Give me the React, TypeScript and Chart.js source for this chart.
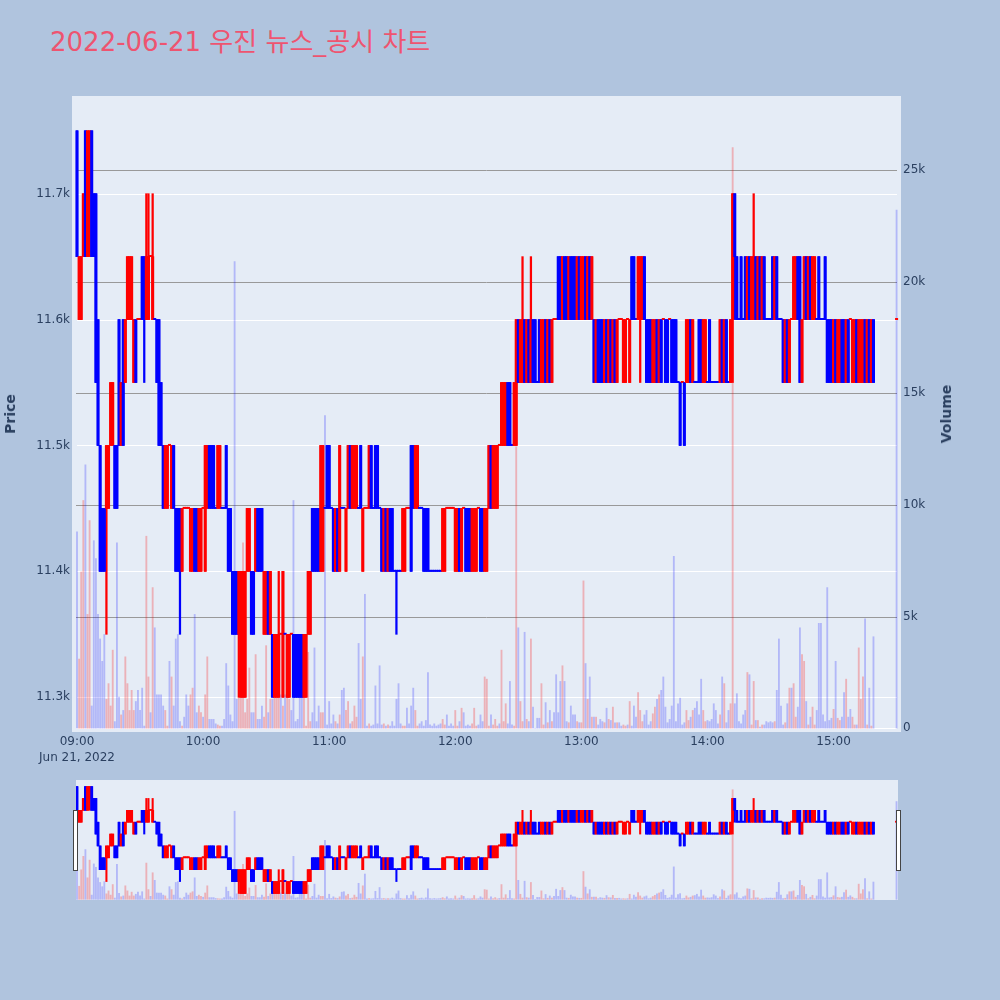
import React, { useEffect, useRef } from "react";
import { Chart, registerables } from "chart.js";

Chart.register(...registerables);

const TITLE = "2022-06-21 우진 뉴스_공시 차트";
const DATE_LABEL = "Jun 21, 2022";

// one candle per minute from 09:00 (index = minutes after 09:00), null = no trade
const opens = [
  11750, 11600, 11600, 11650, 11750, 11650, 11700, 11750, 11700, 11700, // 09:00
  11600, 11500, 11450, 11450, 11450, 11450, 11500, 11500, 11500, 11500,
  11600, 11500, 11600, 11550, 11600, 11600, 11600, 11550, 11600, 11600,
  11600, 11650, 11650, 11600, 11600, 11650, 11600, 11600, 11600, 11600,
  11550, 11500, 11450, 11450, 11500, 11450, 11500, 11450, 11450, 11450,
  11400, 11450, 11450, 11450, 11400, 11400, 11450, 11450, 11400, 11400,
  11450, 11400, 11450, 11500, 11500, 11500, 11450, 11450, 11450, 11450, // 10:00
  11450, 11500, 11450, 11450, 11400, 11400, 11400, 11350, 11300, 11300,
  11300, 11400, 11400, 11400, 11400, 11400, 11450, 11450, 11450, 11350,
  11350, 11400, 11350, 11350, 11300, 11300, 11300, 11350, 11300, 11350,
  11300, 11300, 11350, 11350, 11350, 11350, 11350, 11350, 11300, 11300,
  11350, 11350, 11450, 11450, 11450, 11450, 11400, 11400, 11450, 11500,
  11500, 11450, 11450, 11400, 11450, 11400, 11450, 11450, 11400, 11450, // 11:00
  11500, 11450, 11450, 11450, 11450, 11500, 11400, 11450, 11450, 11450,
  11500, 11450, 11500, 11500, 11450, 11450, 11400, 11450, 11400, 11450,
  11450, 11400, 11400, 11400, 11400, 11400, 11400, 11450, 11450, 11500,
  11500, 11450, 11450, 11450, 11450, 11450, 11450, 11450, 11400, 11400,
  11400, 11400, 11400, 11400, 11400, 11400, 11450, 11450, 11450, 11450,
  11400, 11400, 11450, 11400, 11450, 11450, 11450, 11450, 11400, 11400, // 12:00
  11400, 11450, 11450, 11450, 11400, 11400, 11450, 11500, 11450, 11450,
  11450, 11500, 11500, 11500, 11500, 11550, 11550, 11500, 11500, 11500,
  11600, 11550, 11550, 11600, 11550, 11600, 11550, 11600, 11600, 11550,
  11600, 11550, 11550, 11600, 11550, 11600, 11550, 11600, 11600, 11650,
  11650, 11600, 11650, 11650, 11600, 11650, 11650, 11650, 11600, 11650,
  11600, 11600, 11650, 11600, 11650, 11600, 11600, 11550, 11600, 11600, // 13:00
  11600, 11550, 11600, 11550, 11600, 11550, 11600, 11550, 11600, 11600,
  11550, 11550, 11600, 11550, 11650, 11650, 11600, 11600, 11600, 11600,
  11650, 11600, 11600, 11600, 11550, 11550, 11600, 11550, 11600, 11600,
  11600, 11600, 11600, 11600, 11600, 11600, 11550, 11550, 11550, 11550,
  11550, 11550, 11600, 11550, 11550, 11550, 11600, 11600, 11550, 11550,
  11550, 11600, 11550, 11550, 11550, 11550, 11550, 11600, 11550, 11600, // 14:00
  11550, 11550, 11600, 11700, 11650, 11600, 11650, 11600, 11650, 11600,
  11650, 11600, 11600, 11650, 11600, 11650, 11600, 11650, 11600, 11600,
  11600, 11650, 11600, 11650, 11600, 11600, 11600, 11550, 11600, 11550,
  11600, 11600, 11600, 11650, 11650, 11550, 11600, 11650, 11600, 11650,
  11600, 11600, 11600, 11650, 11600, 11600, 11650, 11600, 11600, 11600,
  11550, 11600, 11550, 11550, 11600, 11600, 11550, 11600, 11600, 11550, // 15:00
  11550, 11600, 11550, 11550, 11550, 11600, 11550, 11600, 11550, 11600,
  null, null, null, null, null, null, null, null, null, null,
  11600, // 15:30
];

const highs = [
  11750, 11650, 11650, 11700, 11750, 11750, 11750, 11750, 11700, 11700,
  11600, 11500, 11450, 11450, 11500, 11500, 11550, 11550, 11500, 11500,
  11600, 11550, 11600, 11600, 11650, 11650, 11650, 11600, 11600, 11600,
  11600, 11650, 11650, 11700, 11700, 11650, 11700, 11600, 11600, 11600,
  11550, 11500, 11500, 11500, 11500, 11500, 11500, 11450, 11450, 11450,
  11450, 11450, 11450, 11450, 11450, 11450, 11450, 11450, 11450, 11450,
  11450, 11500, 11500, 11500, 11500, 11500, 11450, 11500, 11500, 11450,
  11450, 11500, 11450, 11450, 11400, 11400, 11400, 11400, 11400, 11400,
  11400, 11450, 11450, 11400, 11400, 11450, 11450, 11450, 11450, 11400,
  11400, 11400, 11400, 11350, 11350, 11350, 11400, 11350, 11400, 11350,
  11350, 11350, 11350, 11350, 11350, 11350, 11350, 11350, 11350, 11350,
  11400, 11400, 11450, 11450, 11450, 11450, 11500, 11500, 11450, 11500,
  11500, 11450, 11450, 11450, 11450, 11500, 11450, 11450, 11450, 11500,
  11500, 11500, 11500, 11500, 11450, 11500, 11450, 11450, 11450, 11500,
  11500, 11450, 11500, 11500, 11450, 11450, 11450, 11450, 11450, 11450,
  11450, 11400, 11400, 11400, 11400, 11450, 11450, 11450, 11450, 11500,
  11500, 11500, 11500, 11450, 11450, 11450, 11450, 11450, 11400, 11400,
  11400, 11400, 11400, 11400, 11450, 11450, 11450, 11450, 11450, 11450,
  11450, 11450, 11450, 11450, 11450, 11450, 11450, 11450, 11450, 11450,
  11450, 11450, 11450, 11450, 11450, 11450, 11500, 11500, 11500, 11500,
  11500, 11500, 11550, 11550, 11550, 11550, 11550, 11500, 11550, 11600,
  11600, 11600, 11650, 11600, 11600, 11600, 11650, 11600, 11600, 11550,
  11600, 11600, 11600, 11600, 11600, 11600, 11600, 11600, 11600, 11650,
  11650, 11650, 11650, 11650, 11650, 11650, 11650, 11650, 11650, 11650,
  11650, 11650, 11650, 11650, 11650, 11650, 11600, 11600, 11600, 11600,
  11600, 11600, 11600, 11600, 11600, 11600, 11600, 11600, 11600, 11600,
  11600, 11600, 11600, 11600, 11650, 11650, 11600, 11650, 11650, 11650,
  11650, 11600, 11600, 11600, 11600, 11600, 11600, 11600, 11600, 11600,
  11600, 11600, 11600, 11600, 11600, 11600, 11550, 11550, 11550, 11550,
  11600, 11600, 11600, 11600, 11550, 11550, 11600, 11600, 11600, 11600,
  11550, 11600, 11550, 11550, 11550, 11550, 11600, 11600, 11600, 11600,
  11550, 11600, 11700, 11700, 11650, 11600, 11650, 11600, 11650, 11650,
  11650, 11650, 11700, 11650, 11650, 11650, 11650, 11650, 11600, 11600,
  11600, 11650, 11650, 11650, 11600, 11600, 11600, 11600, 11600, 11600,
  11600, 11650, 11650, 11650, 11650, 11600, 11650, 11650, 11650, 11650,
  11650, 11650, 11600, 11650, 11600, 11600, 11650, 11600, 11600, 11600,
  11600, 11600, 11600, 11600, 11600, 11600, 11600, 11600, 11600, 11600,
  11600, 11600, 11600, 11600, 11600, 11600, 11600, 11600, 11600, 11600,
  null, null, null, null, null, null, null, null, null, null,
  11600,
];

const lows = [
  11650, 11600, 11600, 11650, 11650, 11650, 11650, 11650, 11650, 11550,
  11500, 11400, 11400, 11400, 11350, 11450, 11500, 11500, 11450, 11450,
  11500, 11500, 11500, 11550, 11600, 11600, 11600, 11550, 11550, 11600,
  11600, 11600, 11550, 11600, 11600, 11650, 11600, 11600, 11550, 11500,
  11500, 11450, 11450, 11450, 11500, 11450, 11450, 11400, 11400, 11350,
  11400, 11450, 11450, 11450, 11400, 11400, 11400, 11400, 11400, 11400,
  11450, 11400, 11450, 11450, 11450, 11450, 11450, 11450, 11450, 11450,
  11450, 11450, 11400, 11400, 11350, 11350, 11350, 11300, 11300, 11300,
  11300, 11400, 11400, 11350, 11350, 11400, 11400, 11400, 11400, 11350,
  11350, 11350, 11350, 11300, 11300, 11300, 11300, 11350, 11300, 11350,
  11300, 11300, 11350, 11300, 11300, 11300, 11300, 11300, 11300, 11300,
  11350, 11350, 11400, 11400, 11400, 11400, 11400, 11400, 11450, 11450,
  11450, 11450, 11400, 11400, 11400, 11400, 11450, 11450, 11400, 11450,
  11450, 11450, 11450, 11450, 11450, 11450, 11400, 11450, 11450, 11450,
  11450, 11450, 11450, 11450, 11450, 11400, 11400, 11400, 11400, 11400,
  11400, 11400, 11350, 11400, 11400, 11400, 11400, 11450, 11450, 11400,
  11450, 11450, 11450, 11450, 11450, 11400, 11400, 11400, 11400, 11400,
  11400, 11400, 11400, 11400, 11400, 11400, 11450, 11450, 11450, 11450,
  11400, 11400, 11400, 11400, 11450, 11400, 11400, 11400, 11400, 11400,
  11400, 11450, 11400, 11400, 11400, 11400, 11450, 11450, 11450, 11450,
  11450, 11500, 11500, 11500, 11500, 11500, 11500, 11500, 11500, 11500,
  11550, 11550, 11550, 11550, 11550, 11550, 11550, 11550, 11550, 11550,
  11550, 11550, 11550, 11550, 11550, 11550, 11550, 11600, 11600, 11600,
  11600, 11600, 11600, 11600, 11600, 11600, 11600, 11600, 11600, 11600,
  11600, 11600, 11600, 11600, 11600, 11600, 11550, 11550, 11550, 11550,
  11550, 11550, 11550, 11550, 11550, 11550, 11550, 11550, 11600, 11600,
  11550, 11550, 11600, 11550, 11600, 11600, 11600, 11600, 11550, 11600,
  11600, 11550, 11550, 11550, 11550, 11550, 11550, 11550, 11550, 11600,
  11550, 11550, 11600, 11550, 11550, 11550, 11550, 11500, 11550, 11500,
  11550, 11550, 11550, 11550, 11550, 11550, 11550, 11550, 11550, 11550,
  11550, 11550, 11550, 11550, 11550, 11550, 11550, 11550, 11550, 11550,
  11550, 11550, 11550, 11600, 11600, 11600, 11600, 11600, 11600, 11600,
  11600, 11600, 11600, 11600, 11600, 11600, 11600, 11600, 11600, 11600,
  11600, 11600, 11600, 11600, 11600, 11600, 11550, 11550, 11550, 11550,
  11600, 11600, 11600, 11600, 11550, 11550, 11600, 11600, 11600, 11600,
  11600, 11600, 11600, 11600, 11600, 11600, 11600, 11550, 11550, 11550,
  11550, 11550, 11550, 11550, 11550, 11550, 11550, 11550, 11600, 11550,
  11550, 11550, 11550, 11550, 11550, 11550, 11550, 11550, 11550, 11550,
  null, null, null, null, null, null, null, null, null, null,
  11600,
];

const closes = [
  11650, 11650, 11650, 11700, 11650, 11750, 11750, 11650, 11650, 11550,
  11500, 11400, 11400, 11400, 11500, 11500, 11550, 11550, 11450, 11450,
  11500, 11550, 11500, 11600, 11650, 11650, 11650, 11600, 11550, 11600,
  11600, 11600, 11600, 11650, 11650, 11650, 11650, 11600, 11550, 11500,
  11500, 11450, 11500, 11500, 11500, 11500, 11450, 11400, 11400, 11400,
  11450, 11450, 11450, 11450, 11450, 11450, 11400, 11400, 11450, 11450,
  11450, 11500, 11500, 11450, 11450, 11450, 11450, 11500, 11500, 11450,
  11450, 11450, 11400, 11400, 11350, 11350, 11350, 11400, 11400, 11400,
  11400, 11450, 11450, 11350, 11350, 11450, 11400, 11400, 11400, 11400,
  11400, 11350, 11400, 11300, 11350, 11350, 11350, 11350, 11400, 11350,
  11350, 11350, 11350, 11300, 11300, 11300, 11300, 11300, 11350, 11350,
  11400, 11400, 11400, 11400, 11400, 11400, 11500, 11500, 11450, 11450,
  11450, 11450, 11400, 11450, 11400, 11500, 11450, 11450, 11450, 11500,
  11450, 11500, 11500, 11500, 11450, 11450, 11450, 11450, 11450, 11500,
  11450, 11450, 11450, 11450, 11450, 11400, 11450, 11400, 11450, 11400,
  11400, 11400, 11400, 11400, 11400, 11450, 11450, 11450, 11450, 11400,
  11450, 11500, 11500, 11450, 11450, 11400, 11400, 11400, 11400, 11400,
  11400, 11400, 11400, 11400, 11450, 11450, 11450, 11450, 11450, 11450,
  11450, 11450, 11400, 11450, 11450, 11400, 11400, 11400, 11450, 11450,
  11450, 11450, 11400, 11400, 11450, 11450, 11500, 11450, 11500, 11500,
  11500, 11500, 11550, 11550, 11550, 11500, 11500, 11500, 11550, 11600,
  11550, 11600, 11600, 11550, 11600, 11550, 11600, 11550, 11550, 11550,
  11550, 11600, 11600, 11550, 11600, 11550, 11600, 11600, 11600, 11600,
  11600, 11650, 11600, 11600, 11650, 11600, 11600, 11600, 11650, 11600,
  11650, 11650, 11600, 11650, 11600, 11650, 11550, 11600, 11550, 11550,
  11550, 11600, 11550, 11600, 11550, 11600, 11550, 11600, 11600, 11600,
  11600, 11600, 11600, 11600, 11600, 11600, 11600, 11650, 11650, 11650,
  11600, 11550, 11550, 11550, 11600, 11600, 11550, 11600, 11550, 11600,
  11550, 11550, 11600, 11550, 11550, 11550, 11550, 11500, 11550, 11500,
  11600, 11600, 11550, 11600, 11550, 11550, 11550, 11550, 11600, 11600,
  11550, 11550, 11550, 11550, 11550, 11550, 11600, 11550, 11600, 11550,
  11550, 11600, 11700, 11650, 11600, 11600, 11600, 11600, 11600, 11650,
  11600, 11650, 11650, 11600, 11650, 11600, 11650, 11600, 11600, 11600,
  11600, 11600, 11650, 11600, 11600, 11600, 11550, 11600, 11550, 11600,
  11600, 11650, 11650, 11600, 11550, 11600, 11650, 11600, 11650, 11600,
  11650, 11650, 11600, 11600, 11600, 11600, 11600, 11550, 11550, 11550,
  11600, 11550, 11600, 11600, 11550, 11550, 11600, 11550, 11600, 11600,
  11600, 11550, 11600, 11600, 11600, 11550, 11600, 11550, 11600, 11550,
  null, null, null, null, null, null, null, null, null, null,
  11600,
];

const volumes = [
  8800, 3100, 7000, 10200, 11800, 5100, 9300, 1000, 8400, 7600,
  5100, 4000, 3000, 4200, 1300, 2000, 1000, 3500, 300, 8300,
  1400, 600, 800, 3200, 2000, 800, 1700, 800, 1200, 1700,
  800, 1800, 100, 8600, 2300, 700, 6300, 4500, 1500, 1500,
  1500, 1000, 800, 100, 3000, 2300, 1000, 4000, 4200, 300,
  100, 500, 1500, 1000, 1500, 1800, 5100, 700, 1000, 700,
  500, 1500, 3200, 400, 400, 400, 200, 150, 100, 100,
  400, 2900, 1900, 600, 300, 20900, 1300, 1400, 1500, 8300,
  700, 1300, 2700, 700, 700, 3300, 400, 400, 1000, 500,
  3700, 700, 1300, 1300, 1700, 2400, 3500, 1500, 1000, 1500,
  1400, 1300, 800, 10200, 300, 400, 1600, 1700, 2800, 100,
  3400, 300, 700, 3600, 300, 1000, 700, 700, 14000, 150,
  1200, 200, 600, 300, 200, 600, 1700, 1800, 800, 1200,
  200, 300, 1000, 500, 3800, 1300, 3200, 6000, 100, 200,
  100, 150, 1900, 200, 2800, 150, 200, 100, 150, 100,
  300, 100, 1300, 2000, 200, 100, 100, 900, 200, 1000,
  1800, 800, 100, 200, 300, 100, 350, 2500, 150, 100,
  200, 100, 150, 200, 400, 150, 600, 100, 200, 100,
  800, 100, 300, 900, 700, 100, 150, 100, 200, 900,
  100, 150, 600, 300, 2300, 2200, 100, 600, 150, 400,
  100, 200, 3500, 300, 1100, 200, 2100, 150, 100, 12600,
  4500, 1200, 300, 4300, 400, 300, 4000, 950, 0, 450,
  450, 2000, 150, 1150, 250, 800, 300, 700, 2400, 700,
  2100, 2800, 2100, 300, 250, 1000, 600, 600, 300, 250,
  250, 6600, 2900, 1300, 2300, 500, 500, 500, 150, 400,
  300, 250, 900, 400, 350, 950, 250, 250, 250, 100,
  150, 100, 150, 1200, 100, 1000, 500, 1600, 800, 300,
  600, 800, 150, 300, 650, 950, 1300, 1500, 1700, 2300,
  950, 250, 400, 1000, 7700, 300, 1100, 1350, 150, 250,
  800, 350, 500, 800, 900, 1200, 600, 2200, 800, 300,
  350, 300, 400, 1100, 800, 200, 600, 2300, 2000, 250,
  800, 1100, 26000, 1100, 1550, 300, 200, 600, 800, 2500,
  2400, 150, 2100, 350, 350, 50, 150, 150, 300, 250,
  300, 250, 300, 1700, 4000, 1000, 150, 250, 1100, 1800,
  1800, 2000, 500, 950, 4500, 3300, 3000, 1200, 150, 500,
  950, 150, 800, 4700, 4700, 600, 300, 6300, 350, 450,
  850, 3000, 450, 350, 500, 1600, 2200, 500, 850, 500,
  150, 150, 3600, 1300, 2300, 4900, 150, 1800, 100, 4100,
  null, null, null, null, null, null, null, null, null, null,
  23200,
];

const priceTicks = [11300, 11400, 11500, 11600, 11700];
const volumeTicks = [0, 5000, 10000, 15000, 20000, 25000];
const hourTicks = [0, 60, 120, 180, 240, 300, 360]; // minutes after 09:00

const UP = "#ff0000";
const DOWN = "#0000ff";
const UP_VOL = "rgba(255, 0, 0, 0.25)";
const DOWN_VOL = "rgba(0, 0, 255, 0.22)";
const PLOT_BG = "#e5ecf6";
const PAGE_BG = "#b0c4de";
const TEXT = "#2a3f5f";
const TITLE_COLOR = "#ee5470";
const FONT = "'DejaVu Sans', 'Noto Sans CJK KR', verdana, arial, sans-serif";

function buildDatasets(bodyW: number, wickW: number, volW: number, flatH: number) {
  const bodies: any[] = [];
  const wicks: any[] = [];
  const vols: any[] = [];
  const colors: string[] = [];
  const volColors: string[] = [];
  let prevClose: number | null = null;
  let prevUp = false;
  opens.forEach((o, i) => {
    const c = closes[i];
    if (o === null || c === null) return;
    // plotly style: a flat candle takes its direction from the previous close
    let up: boolean;
    if (c !== o) up = c > o;
    else if (prevClose === null || c === prevClose) up = prevUp;
    else up = c > prevClose;
    prevClose = c;
    prevUp = up;
    bodies.push({ x: i, y: [o, c] });
    wicks.push({ x: i, y: [lows[i], highs[i]] });
    vols.push({ x: i, y: volumes[i] });
    colors.push(up ? UP : DOWN);
    volColors.push(c > o ? UP_VOL : DOWN_VOL);
  });
  return [
    { label: "body", data: bodies, backgroundColor: colors, barThickness: bodyW, minBarLength: flatH, grouped: false, yAxisID: "y" },
    { label: "wick", data: wicks, backgroundColor: colors, barThickness: wickW, minBarLength: 1, grouped: false, yAxisID: "y" },
    { label: "Volume", data: vols, backgroundColor: volColors, barThickness: volW, grouped: false, yAxisID: "y1" },
  ];
}

const mainBackground = {
  id: "mainBackground",
  beforeDraw(chart: any) {
    const { ctx, chartArea: a, scales } = chart;
    ctx.save();
    ctx.fillStyle = PLOT_BG;
    ctx.fillRect(a.left, a.top, a.right - a.left, a.bottom - a.top);
    ctx.lineWidth = 1;
    volumeTicks.forEach((v) => {
      const y = Math.round(scales.y1.getPixelForValue(v)) + 0.5;
      ctx.strokeStyle = v === 0 ? "#ffffff" : "#999999";
      ctx.beginPath();
      ctx.moveTo(a.left + 4, y);
      ctx.lineTo(a.right - 4, y);
      ctx.stroke();
    });
    ctx.strokeStyle = "#ffffff";
    priceTicks.forEach((v) => {
      const y = Math.round(scales.y.getPixelForValue(v)) + 0.5;
      ctx.beginPath();
      ctx.moveTo(a.left + 5, y);
      ctx.lineTo(a.right - 4, y);
      ctx.stroke();
    });
    ctx.restore();
  },
};

const sliderBackground = {
  id: "sliderBackground",
  beforeDraw(chart: any) {
    const { ctx, chartArea: a } = chart;
    ctx.save();
    ctx.fillStyle = PLOT_BG;
    ctx.fillRect(a.left, a.top, a.right - a.left, a.bottom - a.top);
    ctx.restore();
  },
};

function timeLabel(m: number) {
  const h = 9 + Math.floor(m / 60);
  const mm = m % 60;
  return `${String(h).padStart(2, "0")}:${String(mm).padStart(2, "0")}`;
}

const App: React.FC = () => {
  const mainRef = useRef<HTMLCanvasElement | null>(null);
  const sliderRef = useRef<HTMLCanvasElement | null>(null);

  useEffect(() => {
    document.body.style.margin = "0";
    Chart.defaults.font.family = FONT;
    Chart.defaults.color = TEXT;

    let main: Chart | undefined;
    let slider: Chart | undefined;

    if (mainRef.current) {
      main = new Chart(mainRef.current, {
        type: "bar",
        data: { datasets: buildDatasets(2.4, 1.6, 1.2, 1.2) as any },
        plugins: [mainBackground],
        options: {
          responsive: false,
          animation: false,
          events: [],
          layout: { padding: { top: 96, left: 0, right: 0, bottom: 0 } },
          plugins: { legend: { display: false }, tooltip: { enabled: false } },
          scales: {
            x: {
              type: "linear",
              min: -2.38,
              max: 392.1,
              offset: false,
              grid: { display: false, drawTicks: false },
              border: { display: false },
              afterBuildTicks: (s: any) => {
                s.ticks = hourTicks.map((v) => ({ value: v }));
              },
              afterFit: (s: any) => {
                s.height = 38;
              },
              ticks: {
                autoSkip: false,
                maxRotation: 0,
                padding: 2,
                color: TEXT,
                font: { size: 12, lineHeight: "16px" },
                callback: (v: any) => {
                  const m = Number(v);
                  return m === 0 ? [timeLabel(m), DATE_LABEL] : timeLabel(m);
                },
              },
            },
            y: {
              position: "left",
              min: 11272.4,
              max: 11777.6,
              grid: { display: false, drawTicks: false },
              border: { display: false },
              afterBuildTicks: (s: any) => {
                s.ticks = priceTicks.map((v) => ({ value: v }));
              },
              afterFit: (s: any) => {
                s.width = 72;
              },
              ticks: {
                padding: 2,
                color: TEXT,
                font: { size: 12 },
                callback: (v: any) => (Number(v) / 1000).toFixed(1) + "k",
              },
            },
            y1: {
              position: "right",
              min: -166,
              max: 28310,
              grid: { display: false, drawTicks: false },
              border: { display: false },
              afterBuildTicks: (s: any) => {
                s.ticks = volumeTicks.map((v) => ({ value: v }));
              },
              afterFit: (s: any) => {
                s.width = 99;
              },
              ticks: {
                padding: 2,
                color: TEXT,
                font: { size: 12 },
                callback: (v: any) => (Number(v) === 0 ? "0" : Number(v) / 1000 + "k"),
              },
            },
          },
        } as any,
      });
    }

    if (sliderRef.current) {
      slider = new Chart(sliderRef.current, {
        type: "bar",
        data: { datasets: buildDatasets(2.2, 1.4, 1.2, 1) as any },
        plugins: [sliderBackground],
        options: {
          responsive: false,
          animation: false,
          events: [],
          layout: { padding: 0 },
          plugins: { legend: { display: false }, tooltip: { enabled: false } },
          scales: {
            x: { type: "linear", display: false, min: -0.48, max: 390.7, offset: false },
            y: { display: false, min: 11272.4, max: 11777.6 },
            y1: { display: false, min: -166, max: 28310 },
          },
        } as any,
      });
    }

    return () => {
      main?.destroy();
      slider?.destroy();
    };
  }, []);

  const axisTitle: React.CSSProperties = {
    position: "absolute",
    transform: "translate(-50%, -50%) rotate(-90deg)",
    fontSize: 14,
    fontWeight: 700,
    color: TEXT,
    whiteSpace: "nowrap",
    lineHeight: "16px",
  };
  const handle: React.CSSProperties = {
    position: "absolute",
    top: 810,
    width: 5,
    height: 61,
    boxSizing: "border-box",
    background: "#ffffff",
    border: "1px solid #444444",
  };

  return (
    <div
      style={{
        position: "relative",
        width: 1000,
        height: 1000,
        background: PAGE_BG,
        overflow: "hidden",
        fontFamily: FONT,
      }}
    >
      <div
        style={{
          position: "absolute",
          left: 50,
          top: 29,
          fontSize: 26,
          lineHeight: "26px",
          color: TITLE_COLOR,
          whiteSpace: "nowrap",
        }}
      >
        {TITLE}
      </div>
      <canvas ref={mainRef} width={1000} height={770} style={{ position: "absolute", left: 0, top: 0 }} />
      <div style={{ ...axisTitle, left: 10, top: 414 }}>Price</div>
      <div style={{ ...axisTitle, left: 946, top: 414 }}>Volume</div>
      <canvas ref={sliderRef} width={822} height={120} style={{ position: "absolute", left: 76, top: 780 }} />
      <div style={{ ...handle, left: 73 }} />
      <div style={{ ...handle, left: 896 }} />
    </div>
  );
};

export default App;
